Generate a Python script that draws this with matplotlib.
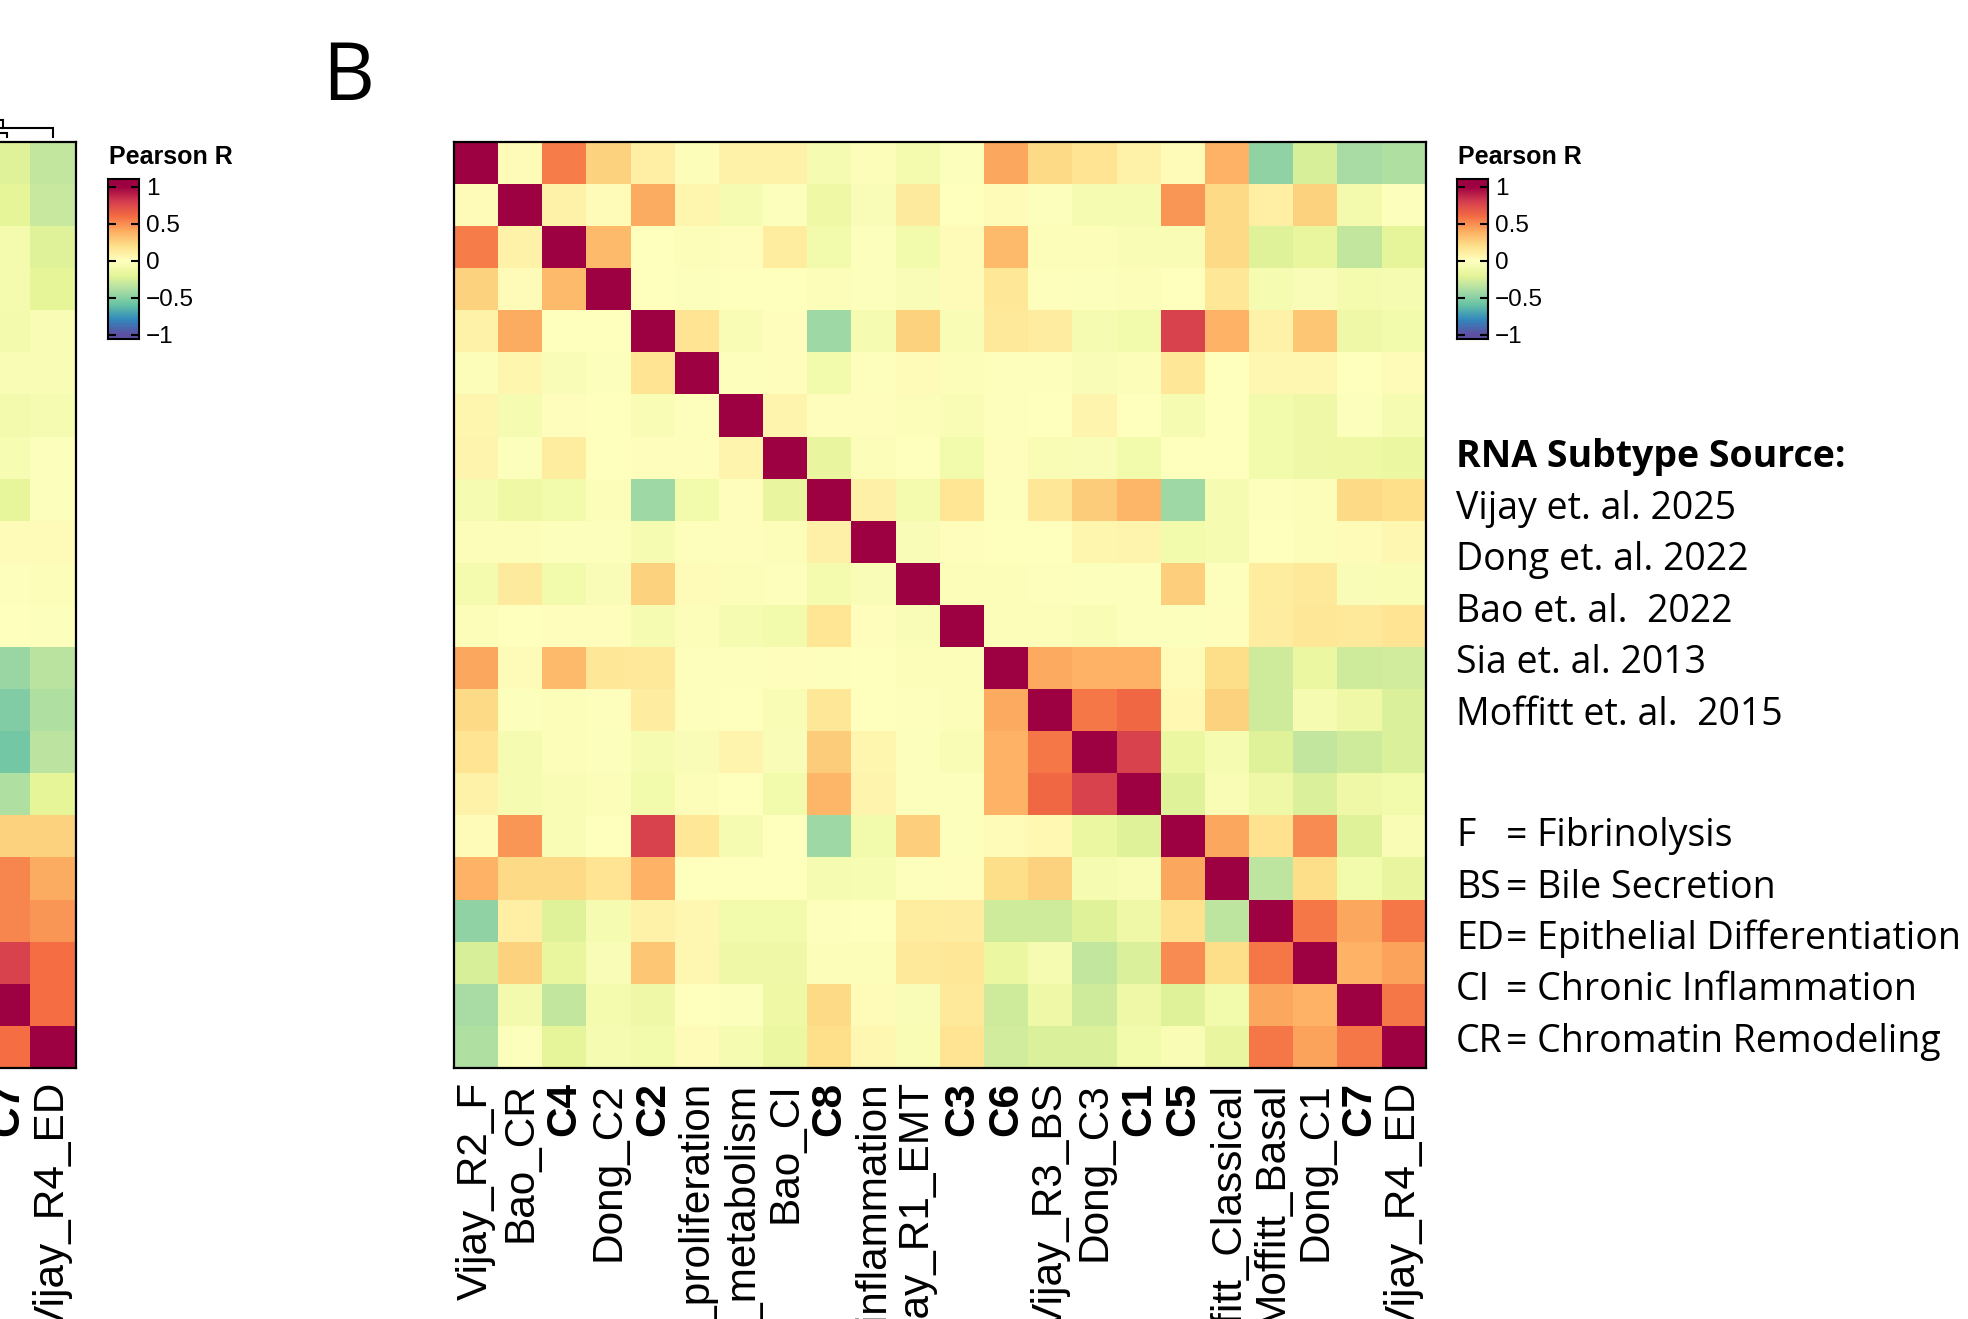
import numpy as np
import matplotlib
matplotlib.use("Agg")
import matplotlib.pyplot as plt
from matplotlib.colors import Normalize

W, H = 1968, 1319

# panel B: subtype signatures, Pearson R between them
labels_b = ["Vijay_R2_F", "Bao_CR", "C4", "Dong_C2", "C2", "Sia_proliferation",
            "Bao_metabolism", "Bao_CI", "C8", "Sia_inflammation", "Vijay_R1_EMT",
            "C3", "C6", "Vijay_R3_BS", "Dong_C3", "C1", "C5", "Moffitt_Classical",
            "Moffitt_Basal", "Dong_C1", "C7", "Vijay_R4_ED"]
bold_labels = {"C1", "C2", "C3", "C4", "C5", "C6", "C7", "C8"}

r_b = [
    [1.00, 0.03, 0.55, 0.25, 0.10, -0.03, 0.08, 0.08, -0.07, -0.03, -0.08, -0.02, 0.42, 0.22, 0.17, 0.08, 0.02, 0.38, -0.47, -0.25, -0.40, -0.38],
    [0.03, 1.00, 0.08, 0.03, 0.40, 0.06, -0.07, -0.02, -0.13, -0.04, 0.13, 0.00, 0.03, -0.02, -0.07, -0.07, 0.47, 0.22, 0.10, 0.25, -0.09, -0.02],
    [0.55, 0.08, 1.00, 0.35, 0.00, -0.03, 0.01, 0.12, -0.10, -0.02, -0.10, 0.02, 0.35, -0.03, -0.03, -0.05, -0.05, 0.22, -0.22, -0.17, -0.32, -0.19],
    [0.25, 0.03, 0.35, 1.00, 0.00, -0.02, 0.00, 0.00, -0.03, -0.02, -0.04, 0.02, 0.15, -0.01, -0.02, -0.03, 0.00, 0.15, -0.07, -0.04, -0.08, -0.07],
    [0.08, 0.40, 0.00, 0.00, 1.00, 0.17, -0.05, 0.01, -0.43, -0.07, 0.25, -0.05, 0.14, 0.11, -0.07, -0.10, 0.78, 0.38, 0.08, 0.30, -0.12, -0.10],
    [-0.03, 0.06, -0.04, -0.02, 0.17, 1.00, -0.01, 0.01, -0.10, -0.01, 0.03, -0.03, -0.01, -0.01, -0.04, -0.03, 0.15, 0.00, 0.05, 0.05, 0.00, 0.02],
    [0.06, -0.07, 0.01, 0.00, -0.05, -0.01, 1.00, 0.07, 0.01, 0.01, -0.03, -0.05, -0.01, 0.00, 0.07, 0.00, -0.07, 0.00, -0.10, -0.12, -0.02, -0.07],
    [0.07, -0.02, 0.12, 0.00, 0.01, 0.01, 0.07, 1.00, -0.16, -0.03, 0.00, -0.10, 0.01, -0.05, -0.04, -0.10, 0.00, 0.00, -0.10, -0.12, -0.13, -0.15],
    [-0.07, -0.13, -0.10, -0.03, -0.43, -0.10, 0.01, -0.16, 1.00, 0.09, -0.08, 0.16, -0.01, 0.15, 0.28, 0.36, -0.43, -0.07, -0.01, -0.03, 0.22, 0.20],
    [-0.03, -0.03, -0.02, -0.02, -0.07, -0.01, 0.01, -0.03, 0.09, 1.00, -0.04, 0.01, 0.00, 0.00, 0.06, 0.07, -0.10, -0.07, 0.00, -0.03, 0.02, 0.05],
    [-0.08, 0.13, -0.10, -0.04, 0.25, 0.02, -0.03, -0.01, -0.08, -0.04, 1.00, -0.03, -0.03, -0.01, -0.02, -0.02, 0.27, -0.01, 0.12, 0.14, -0.04, -0.05],
    [-0.03, 0.00, 0.01, 0.01, -0.07, -0.03, -0.07, -0.10, 0.16, 0.01, -0.04, 1.00, -0.03, -0.03, -0.05, -0.02, -0.02, 0.01, 0.11, 0.15, 0.14, 0.17],
    [0.42, 0.03, 0.35, 0.15, 0.14, -0.01, -0.01, 0.01, -0.01, 0.00, -0.03, -0.03, 1.00, 0.41, 0.38, 0.38, 0.02, 0.21, -0.28, -0.15, -0.28, -0.27],
    [0.22, -0.02, -0.03, -0.01, 0.11, -0.01, 0.00, -0.05, 0.15, 0.00, -0.01, -0.03, 0.41, 1.00, 0.57, 0.62, 0.04, 0.25, -0.28, -0.07, -0.12, -0.24],
    [0.17, -0.07, -0.03, -0.02, -0.07, -0.04, 0.07, -0.04, 0.28, 0.06, -0.02, -0.05, 0.38, 0.57, 1.00, 0.78, -0.15, -0.07, -0.22, -0.32, -0.28, -0.24],
    [0.08, -0.07, -0.05, -0.03, -0.10, -0.03, 0.00, -0.10, 0.36, 0.07, -0.02, -0.02, 0.38, 0.62, 0.78, 1.00, -0.22, -0.05, -0.12, -0.24, -0.12, -0.10],
    [0.02, 0.47, -0.05, 0.00, 0.78, 0.15, -0.07, 0.00, -0.43, -0.10, 0.27, -0.02, 0.02, 0.04, -0.15, -0.22, 1.00, 0.42, 0.18, 0.50, -0.22, -0.05],
    [0.38, 0.22, 0.22, 0.17, 0.38, 0.00, 0.00, 0.00, -0.07, -0.06, -0.01, 0.01, 0.21, 0.25, -0.07, -0.05, 0.42, 1.00, -0.33, 0.21, -0.10, -0.16],
    [-0.47, 0.10, -0.22, -0.07, 0.08, 0.05, -0.10, -0.10, -0.01, 0.00, 0.12, 0.11, -0.28, -0.28, -0.22, -0.12, 0.18, -0.33, 1.00, 0.57, 0.42, 0.57],
    [-0.25, 0.25, -0.17, -0.04, 0.30, 0.05, -0.12, -0.12, -0.03, -0.03, 0.14, 0.15, -0.15, -0.07, -0.32, -0.24, 0.50, 0.21, 0.57, 1.00, 0.38, 0.43],
    [-0.40, -0.09, -0.32, -0.08, -0.12, 0.00, -0.02, -0.13, 0.22, 0.02, -0.04, 0.14, -0.28, -0.12, -0.28, -0.12, -0.22, -0.10, 0.42, 0.38, 1.00, 0.57],
    [-0.38, -0.02, -0.19, -0.07, -0.10, 0.02, -0.07, -0.15, 0.20, 0.05, -0.05, 0.17, -0.27, -0.24, -0.24, -0.10, -0.05, -0.16, 0.57, 0.43, 0.57, 1.00],
]

# panel A (only its last two columns are in frame)
labels_left = ["C7", "Vijay_R4_ED"]
r_left_c7 = [-0.22, -0.20, -0.08, -0.08, -0.09, -0.05, -0.09, -0.06, -0.18, 0.02, -0.01,
             0.00, -0.45, -0.52, -0.56, -0.38, 0.25, 0.52, 0.52, 0.78, 1.00, 0.60]
r_left_r4ed = [-0.32, -0.30, -0.22, -0.20, -0.05, -0.05, -0.07, -0.02, -0.02, 0.02, -0.03,
               -0.02, -0.35, -0.38, -0.34, -0.20, 0.25, 0.40, 0.47, 0.60, 0.60, 1.00]
# dendrogram joins visible above panel A: (x left, x right, height, h left child, h right child)
dend_links = [(-2.35, 0.0, 5, 0, 0), (-1.17, 1.0, 10, 5, 0), (-3.0, -0.09, 18, 10, 10)]

cbar_ticks = [-1, -0.5, 0, 0.5, 1]
cbar_ticklabels = ["\u22121", "\u22120.5", "0", "0.5", "1"]

sources = ["Vijay et. al. 2025", "Dong et. al. 2022", "Bao et. al.  2022",
           "Sia et. al. 2013", "Moffitt et. al.  2015"]
abbrevs = ["F", "BS", "ED", "CI", "CR"]
meanings = ["Fibrinolysis", "Bile Secretion", "Epithelial Differentiation",
            "Chronic Inflammation", "Chromatin Remodeling"]

label_font = "Liberation Sans"
text_font = "Open Sans"
cmap = plt.get_cmap("Spectral_r")
norm = Normalize(vmin=-1, vmax=1)

fig = plt.figure(figsize=(W / 100, H / 100), dpi=100)


def px_ax(x0, y0, x1, y1):
    # axes from pixel box (top-left origin)
    return fig.add_axes([x0 / W, 1 - y1 / H, (x1 - x0) / W, (y1 - y0) / H])


def style_heatmap(ax, labels):
    ax.set_xticks(range(len(labels)))
    ax.set_xticklabels(labels, rotation=90, fontsize=30.5, family=label_font)
    for t in ax.get_xticklabels():
        if t.get_text() in bold_labels:
            t.set_fontweight("bold")
    ax.set_yticks([])
    ax.tick_params(axis="x", length=0, pad=10)
    for s in ax.spines.values():
        s.set_linewidth(1.6)


# heatmap B
ax = px_ax(454, 142, 1426, 1068)
ax.imshow(np.array(r_b), cmap=cmap, norm=norm, aspect="auto", interpolation="nearest")
style_heatmap(ax, labels_b)

# cut-off heatmap A
axl = px_ax(-16, 142, 76, 1068)
axl.imshow(np.column_stack([r_left_c7, r_left_r4ed]), cmap=cmap, norm=norm,
           aspect="auto", interpolation="nearest")
style_heatmap(axl, labels_left)

axd = px_ax(-16, 115, 76, 138)
for xl, xr, h, hl, hr in dend_links:
    axd.plot([xl, xl, xr, xr], [hl, h, h, hr], color="black", lw=1.5,
             solid_joinstyle="miter")
axd.set_xlim(-0.5, 1.5)
axd.set_ylim(0, 23)
axd.axis("off")


def pearson_legend(x0):
    cax = px_ax(x0, 179, x0 + 31, 339)
    grad = np.linspace(-1.1, 1.1, 400)[:, None]
    cax.imshow(grad, cmap=cmap, norm=norm, aspect="auto", origin="lower",
               extent=(0, 1, -1.1, 1.1))
    cax.set_xlim(0, 1)
    cax.set_ylim(-1.055, 1.105)
    cax.set_xticks([])
    cax.set_yticks(cbar_ticks)
    cax.set_yticklabels(cbar_ticklabels, family=label_font)
    cax.tick_params(axis="y", direction="in", left=True, right=True, labelleft=False,
                    labelright=True, length=6, width=1.5, pad=5, labelsize=17.5)
    for s in cax.spines.values():
        s.set_linewidth(1.5)
    fig.text((x0 + 1) / W, 1 - 164 / H, "Pearson R", fontsize=18, fontweight="bold",
             family=label_font, va="baseline")


pearson_legend(108)
pearson_legend(1457)

fig.text(322 / W, 1 - 100 / H, "B", fontsize=58, family=text_font, va="baseline")

x_txt = 1456
fig.text(x_txt / W, 1 - 467 / H, "RNA Subtype Source:", fontsize=27, fontweight="bold",
         family=text_font, va="baseline")
for i, s in enumerate(sources):
    fig.text(x_txt / W, 1 - (518.5 + 51.5 * i) / H, s, fontsize=27, family=text_font,
             va="baseline")
for i, (a, m) in enumerate(zip(abbrevs, meanings)):
    yb = 1 - (846 + 51.5 * i) / H
    fig.text(x_txt / W, yb, a, fontsize=27, family=text_font, va="baseline")
    fig.text(1506 / W, yb, "= " + m, fontsize=27, family=text_font, va="baseline")

fig.savefig("out.png", dpi=100)
